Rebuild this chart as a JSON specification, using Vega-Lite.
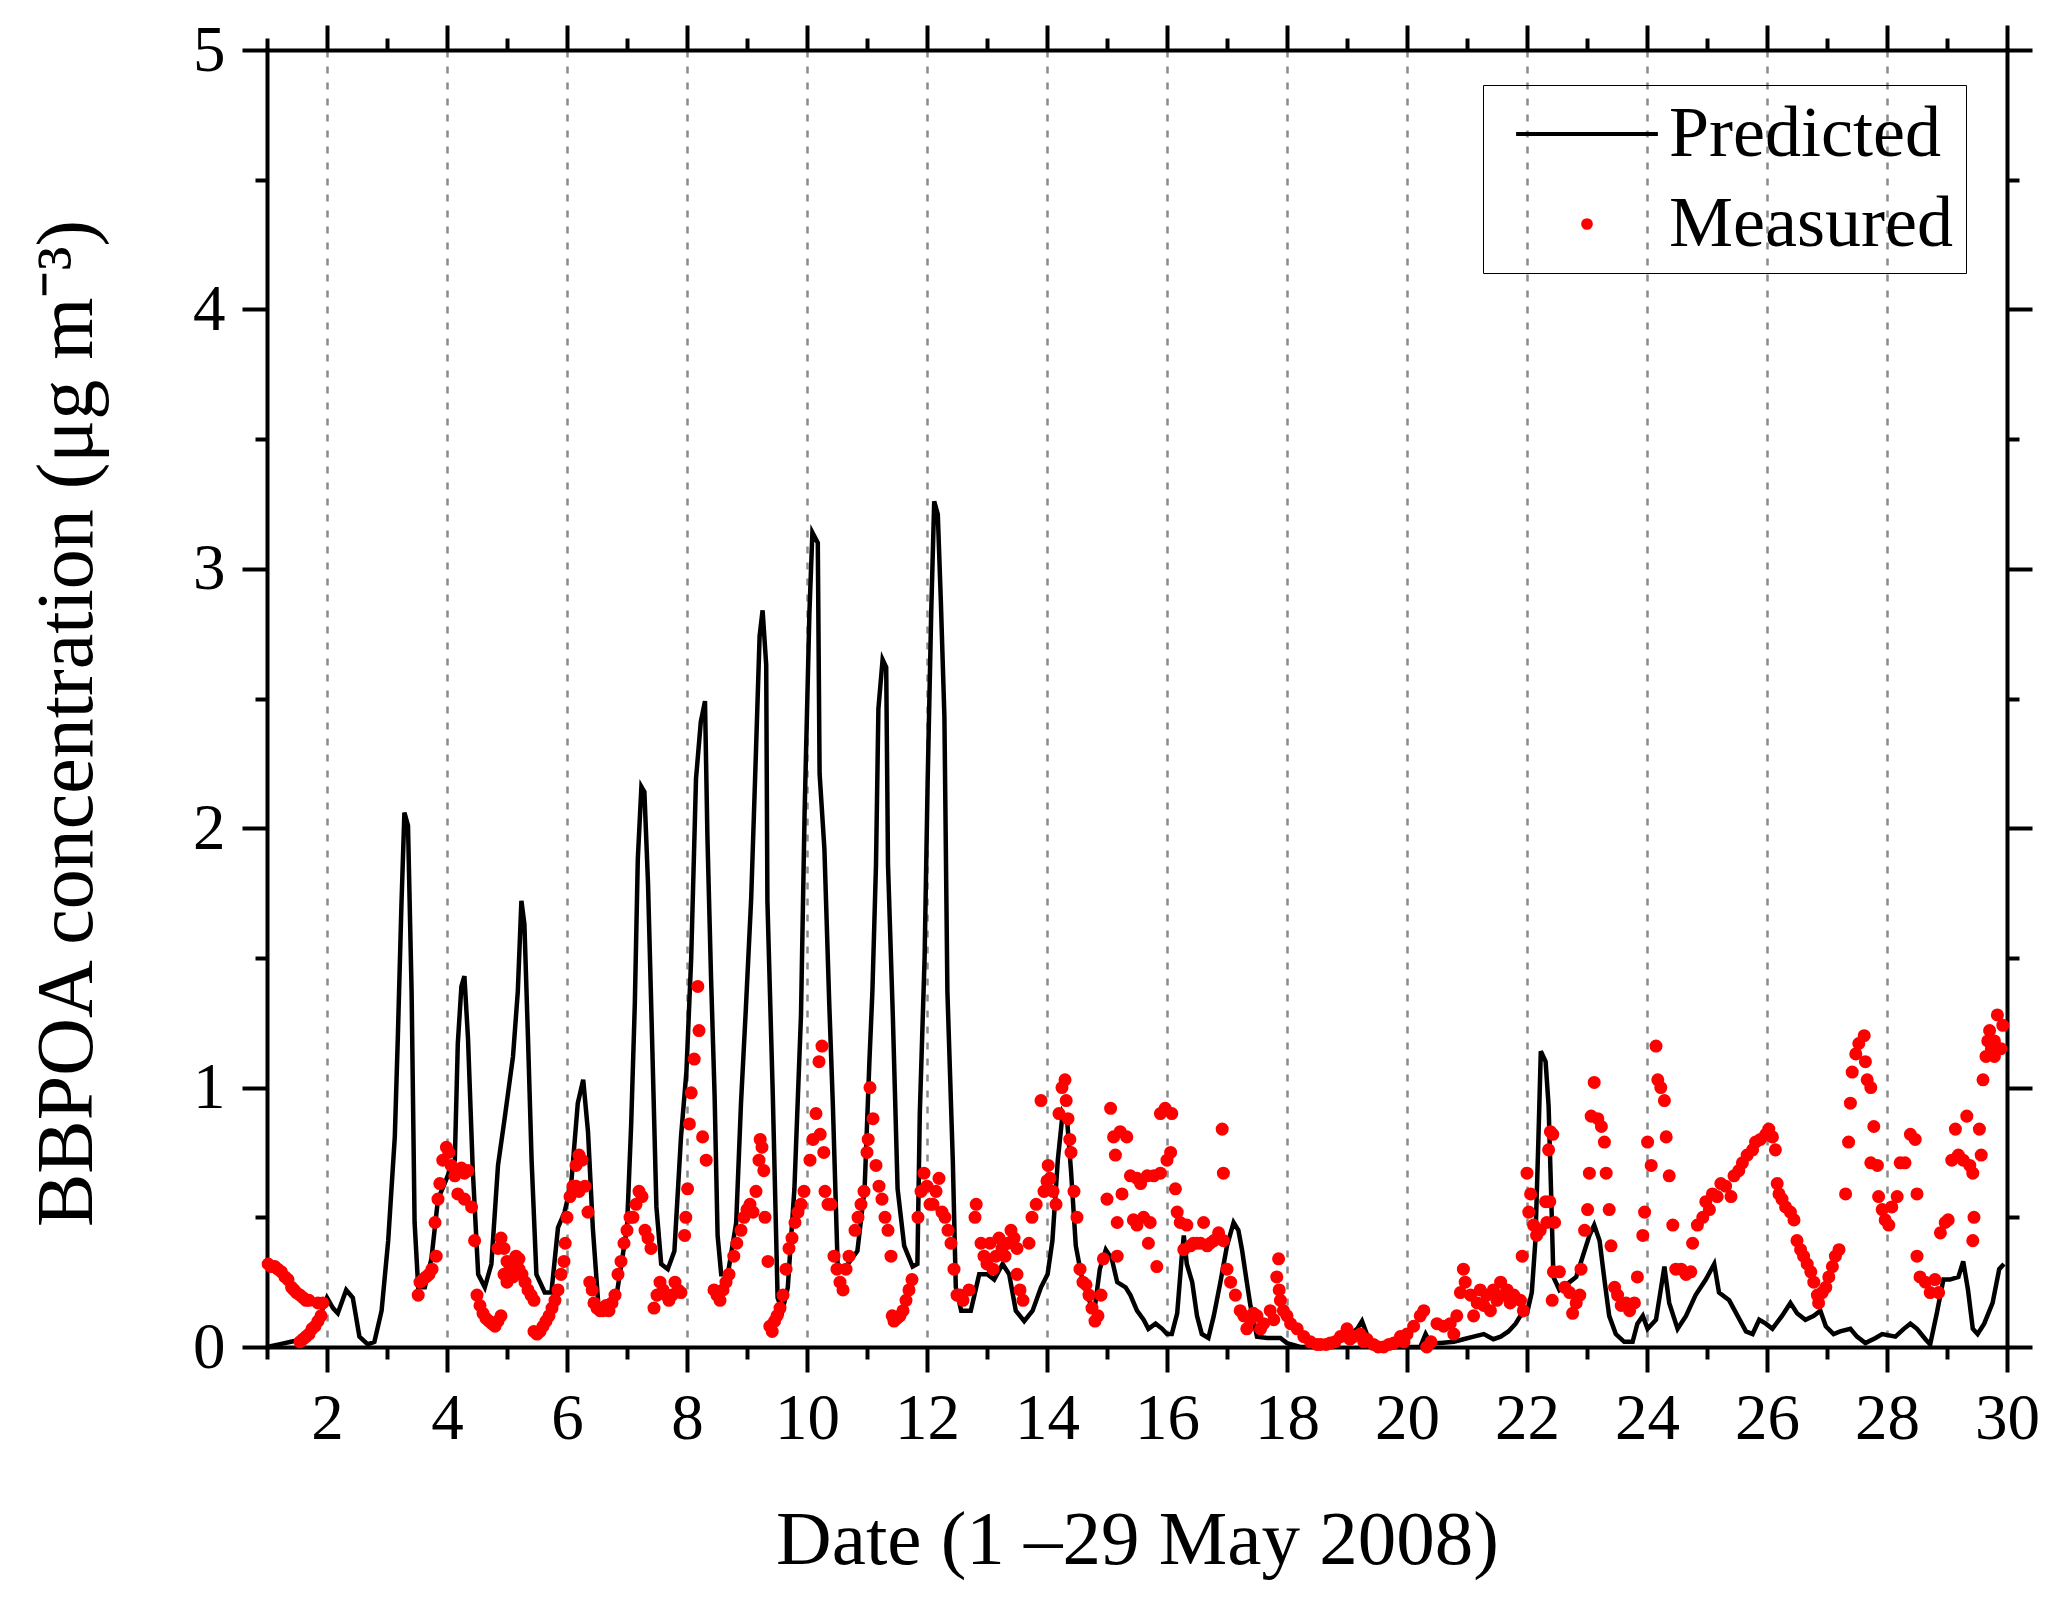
{
  "$schema": "https://vega.github.io/schema/vega-lite/v6.json",
  "width": 1740,
  "height": 1297,
  "autosize": {"type": "none"},
  "padding": {"left": 267, "top": 50, "right": 60, "bottom": 258},
  "background": "white",
  "config": {"view": {"stroke": null}, "font": "Liberation Serif"},
  "datasets": {
    "predicted": [
      {"d":1.0,"v":0.0},{"d":1.2,"v":0.01},{"d":1.4,"v":0.02},{"d":1.6,"v":0.03},{"d":1.75,"v":0.06},{"d":1.85,"v":0.1},{"d":2.0,"v":0.19},{"d":2.1,"v":0.15},{"d":2.18,"v":0.13},{"d":2.32,"v":0.22},{"d":2.43,"v":0.19},{"d":2.54,"v":0.04},{"d":2.68,"v":0.01},{"d":2.79,"v":0.02},{"d":2.91,"v":0.14},
      {"d":3.02,"v":0.41},{"d":3.13,"v":0.81},{"d":3.18,"v":1.19},{"d":3.24,"v":1.7},{"d":3.29,"v":2.06},{"d":3.35,"v":2.01},{"d":3.41,"v":1.37},{"d":3.46,"v":0.48},{"d":3.52,"v":0.23},{"d":3.63,"v":0.23},{"d":3.74,"v":0.34},{"d":3.85,"v":0.57},{"d":3.96,"v":0.63},
      {"d":4.08,"v":0.7},{"d":4.13,"v":0.72},{"d":4.18,"v":1.17},{"d":4.24,"v":1.39},{"d":4.29,"v":1.43},{"d":4.35,"v":1.19},{"d":4.43,"v":0.68},{"d":4.52,"v":0.28},{"d":4.63,"v":0.23},{"d":4.74,"v":0.32},{"d":4.85,"v":0.7},{"d":4.96,"v":0.88},
      {"d":5.1,"v":1.12},{"d":5.18,"v":1.37},{"d":5.24,"v":1.72},{"d":5.29,"v":1.63},{"d":5.35,"v":1.19},{"d":5.41,"v":0.72},{"d":5.49,"v":0.28},{"d":5.63,"v":0.21},{"d":5.74,"v":0.21},{"d":5.85,"v":0.46},{"d":5.96,"v":0.52},
      {"d":6.07,"v":0.63},{"d":6.18,"v":0.94},{"d":6.27,"v":1.03},{"d":6.35,"v":0.83},{"d":6.43,"v":0.46},{"d":6.52,"v":0.17},{"d":6.66,"v":0.13},{"d":6.82,"v":0.19},
      {"d":7.0,"v":0.46},{"d":7.07,"v":0.86},{"d":7.13,"v":1.32},{"d":7.18,"v":1.88},{"d":7.24,"v":2.16},{"d":7.29,"v":2.14},{"d":7.35,"v":1.79},{"d":7.41,"v":1.26},{"d":7.49,"v":0.54},{"d":7.57,"v":0.32},{"d":7.68,"v":0.3},{"d":7.79,"v":0.37},{"d":7.9,"v":0.81},{"d":7.99,"v":1.06},
      {"d":8.07,"v":1.5},{"d":8.15,"v":2.19},{"d":8.23,"v":2.41},{"d":8.3,"v":2.49},{"d":8.34,"v":1.97},{"d":8.4,"v":1.43},{"d":8.46,"v":0.97},{"d":8.51,"v":0.43},{"d":8.57,"v":0.28},{"d":8.68,"v":0.28},{"d":8.82,"v":0.48},{"d":8.9,"v":0.94},{"d":8.98,"v":1.3},
      {"d":9.07,"v":1.73},{"d":9.15,"v":2.3},{"d":9.21,"v":2.74},{"d":9.26,"v":2.84},{"d":9.32,"v":2.63},{"d":9.34,"v":1.72},{"d":9.43,"v":0.97},{"d":9.51,"v":0.19},{"d":9.59,"v":0.14},{"d":9.68,"v":0.23},{"d":9.79,"v":0.61},{"d":9.9,"v":1.28},{"d":9.96,"v":2.06},
      {"d":10.04,"v":2.83},{"d":10.09,"v":3.14},{"d":10.18,"v":3.1},{"d":10.21,"v":2.21},{"d":10.29,"v":1.92},{"d":10.37,"v":1.33},{"d":10.43,"v":0.94},{"d":10.51,"v":0.32},{"d":10.62,"v":0.3},{"d":10.84,"v":0.37},{"d":10.96,"v":0.61},
      {"d":11.04,"v":1.1},{"d":11.09,"v":1.37},{"d":11.15,"v":1.86},{"d":11.19,"v":2.46},{"d":11.26,"v":2.65},{"d":11.32,"v":2.62},{"d":11.35,"v":1.86},{"d":11.43,"v":1.28},{"d":11.51,"v":0.61},{"d":11.62,"v":0.39},{"d":11.76,"v":0.31},{"d":11.84,"v":0.32},{"d":11.88,"v":0.9},{"d":11.96,"v":1.5},
      {"d":12.01,"v":2.17},{"d":12.07,"v":2.83},{"d":12.12,"v":3.26},{"d":12.18,"v":3.21},{"d":12.23,"v":2.88},{"d":12.29,"v":2.43},{"d":12.34,"v":1.37},{"d":12.43,"v":0.72},{"d":12.48,"v":0.23},{"d":12.57,"v":0.14},{"d":12.73,"v":0.14},{"d":12.87,"v":0.28},
      {"d":13.01,"v":0.28},{"d":13.12,"v":0.26},{"d":13.26,"v":0.32},{"d":13.37,"v":0.28},{"d":13.48,"v":0.14},{"d":13.62,"v":0.1},{"d":13.76,"v":0.14},{"d":13.9,"v":0.23},
      {"d":14.01,"v":0.28},{"d":14.09,"v":0.41},{"d":14.18,"v":0.72},{"d":14.26,"v":0.9},{"d":14.34,"v":0.86},{"d":14.4,"v":0.68},{"d":14.48,"v":0.39},{"d":14.57,"v":0.28},{"d":14.68,"v":0.19},{"d":14.79,"v":0.14},{"d":14.88,"v":0.3},{"d":14.98,"v":0.375},
      {"d":15.08,"v":0.34},{"d":15.17,"v":0.25},{"d":15.31,"v":0.23},{"d":15.39,"v":0.2},{"d":15.5,"v":0.14},{"d":15.61,"v":0.105},{"d":15.69,"v":0.07},{"d":15.81,"v":0.09},{"d":15.92,"v":0.07},
      {"d":16.0,"v":0.05},{"d":16.08,"v":0.05},{"d":16.17,"v":0.13},{"d":16.25,"v":0.36},{"d":16.28,"v":0.43},{"d":16.33,"v":0.32},{"d":16.42,"v":0.25},{"d":16.5,"v":0.12},{"d":16.58,"v":0.05},{"d":16.69,"v":0.035},{"d":16.78,"v":0.12},{"d":16.89,"v":0.25},
      {"d":17.0,"v":0.39},{"d":17.11,"v":0.48},{"d":17.19,"v":0.45},{"d":17.25,"v":0.375},{"d":17.33,"v":0.25},{"d":17.39,"v":0.16},{"d":17.5,"v":0.04},{"d":17.67,"v":0.035},{"d":17.89,"v":0.035},
      {"d":18.0,"v":0.015},{"d":18.22,"v":0.0},{"d":18.5,"v":0.0},{"d":18.89,"v":0.03},{"d":19.06,"v":0.05},{"d":19.17,"v":0.07},{"d":19.25,"v":0.1},{"d":19.33,"v":0.05},{"d":19.44,"v":0.01},{"d":19.67,"v":0.0},
      {"d":20.0,"v":0.0},{"d":20.22,"v":0.0},{"d":20.31,"v":0.05},{"d":20.39,"v":0.015},{"d":20.56,"v":0.015},{"d":20.78,"v":0.02},{"d":20.94,"v":0.03},
      {"d":21.11,"v":0.04},{"d":21.28,"v":0.05},{"d":21.44,"v":0.03},{"d":21.56,"v":0.04},{"d":21.69,"v":0.06},{"d":21.81,"v":0.09},{"d":21.89,"v":0.12},
      {"d":22.0,"v":0.13},{"d":22.08,"v":0.21},{"d":22.14,"v":0.41},{"d":22.19,"v":0.8},{"d":22.23,"v":1.14},{"d":22.31,"v":1.1},{"d":22.36,"v":0.93},{"d":22.4,"v":0.61},{"d":22.44,"v":0.27},{"d":22.54,"v":0.22},{"d":22.71,"v":0.25},{"d":22.82,"v":0.27},{"d":22.93,"v":0.35},
      {"d":23.04,"v":0.43},{"d":23.12,"v":0.47},{"d":23.21,"v":0.41},{"d":23.29,"v":0.26},{"d":23.37,"v":0.12},{"d":23.48,"v":0.05},{"d":23.62,"v":0.02},{"d":23.76,"v":0.02},{"d":23.84,"v":0.09},{"d":23.93,"v":0.12},
      {"d":24.01,"v":0.07},{"d":24.15,"v":0.105},{"d":24.29,"v":0.31},{"d":24.37,"v":0.17},{"d":24.51,"v":0.07},{"d":24.65,"v":0.12},{"d":24.81,"v":0.2},{"d":24.98,"v":0.26},
      {"d":25.12,"v":0.32},{"d":25.2,"v":0.21},{"d":25.37,"v":0.18},{"d":25.51,"v":0.12},{"d":25.65,"v":0.06},{"d":25.76,"v":0.05},{"d":25.87,"v":0.105},{"d":25.98,"v":0.09},
      {"d":26.09,"v":0.07},{"d":26.25,"v":0.12},{"d":26.39,"v":0.17},{"d":26.5,"v":0.13},{"d":26.64,"v":0.105},{"d":26.78,"v":0.12},{"d":26.89,"v":0.14},{"d":26.98,"v":0.08},
      {"d":27.11,"v":0.05},{"d":27.22,"v":0.06},{"d":27.39,"v":0.07},{"d":27.5,"v":0.04},{"d":27.64,"v":0.015},{"d":27.81,"v":0.035},{"d":27.92,"v":0.05},
      {"d":28.14,"v":0.04},{"d":28.28,"v":0.07},{"d":28.39,"v":0.09},{"d":28.5,"v":0.07},{"d":28.64,"v":0.03},{"d":28.72,"v":0.01},{"d":28.83,"v":0.13},{"d":28.94,"v":0.26},
      {"d":29.05,"v":0.26},{"d":29.19,"v":0.27},{"d":29.27,"v":0.33},{"d":29.35,"v":0.22},{"d":29.43,"v":0.07},{"d":29.51,"v":0.05},{"d":29.62,"v":0.09},{"d":29.76,"v":0.17},{"d":29.87,"v":0.3},{"d":29.95,"v":0.32}
    ],
    "measured": [
      {"d":1.02,"v":0.32},{"d":1.07,"v":0.31},{"d":1.13,"v":0.31},{"d":1.18,"v":0.3},{"d":1.24,"v":0.29},{"d":1.3,"v":0.27},{"d":1.35,"v":0.26},{"d":1.41,"v":0.23},{"d":1.45,"v":0.22},{"d":1.49,"v":0.21},{"d":1.55,"v":0.2},{"d":1.6,"v":0.19},{"d":1.65,"v":0.18},{"d":1.7,"v":0.18},{"d":1.85,"v":0.17},{"d":1.93,"v":0.17},
      {"d":1.55,"v":0.02},{"d":1.6,"v":0.03},{"d":1.65,"v":0.04},{"d":1.7,"v":0.05},{"d":1.75,"v":0.07},{"d":1.8,"v":0.08},{"d":1.85,"v":0.1},{"d":1.9,"v":0.12},
      {"d":3.52,"v":0.2},{"d":3.55,"v":0.25},{"d":3.6,"v":0.26},{"d":3.65,"v":0.27},{"d":3.7,"v":0.28},{"d":3.75,"v":0.3},{"d":3.8,"v":0.48},{"d":3.82,"v":0.35},{"d":3.85,"v":0.57},{"d":3.88,"v":0.63},{"d":3.93,"v":0.72},{"d":3.99,"v":0.77},{"d":4.03,"v":0.75},{"d":4.07,"v":0.7},{"d":4.13,"v":0.66},{"d":4.18,"v":0.68},{"d":4.24,"v":0.69},{"d":4.29,"v":0.67},{"d":4.35,"v":0.68},{"d":4.18,"v":0.59},{"d":4.29,"v":0.57},{"d":4.41,"v":0.54},{"d":4.46,"v":0.41},
      {"d":4.5,"v":0.2},{"d":4.55,"v":0.16},{"d":4.6,"v":0.13},{"d":4.65,"v":0.11},{"d":4.7,"v":0.1},{"d":4.75,"v":0.09},{"d":4.8,"v":0.08},{"d":4.85,"v":0.1},{"d":4.9,"v":0.12},
      {"d":4.85,"v":0.38},{"d":4.9,"v":0.42},{"d":4.95,"v":0.38},{"d":5.0,"v":0.33},{"d":5.05,"v":0.3},{"d":5.1,"v":0.32},{"d":5.15,"v":0.35},{"d":5.2,"v":0.3},{"d":5.25,"v":0.28},{"d":5.3,"v":0.25},{"d":5.35,"v":0.22},{"d":5.4,"v":0.2},{"d":5.45,"v":0.18},{"d":4.95,"v":0.28},{"d":5.0,"v":0.25},{"d":5.1,"v":0.27},{"d":5.2,"v":0.34},
      {"d":5.45,"v":0.06},{"d":5.5,"v":0.05},{"d":5.55,"v":0.06},{"d":5.6,"v":0.08},{"d":5.65,"v":0.1},{"d":5.7,"v":0.12},{"d":5.75,"v":0.15},{"d":5.8,"v":0.18},{"d":5.85,"v":0.22},{"d":5.9,"v":0.28},{"d":5.95,"v":0.33},
      {"d":5.97,"v":0.4},{"d":6.0,"v":0.5},{"d":6.05,"v":0.58},{"d":6.1,"v":0.62},{"d":6.15,"v":0.7},{"d":6.2,"v":0.74},{"d":6.25,"v":0.72},{"d":6.3,"v":0.62},{"d":6.35,"v":0.52},{"d":6.2,"v":0.6},{"d":6.15,"v":0.62},
      {"d":6.38,"v":0.25},{"d":6.42,"v":0.22},{"d":6.45,"v":0.17},{"d":6.5,"v":0.15},{"d":6.55,"v":0.14},{"d":6.6,"v":0.14},{"d":6.65,"v":0.16},{"d":6.7,"v":0.14},{"d":6.75,"v":0.17},{"d":6.8,"v":0.2},
      {"d":6.85,"v":0.28},{"d":6.9,"v":0.33},{"d":6.95,"v":0.4},{"d":7.0,"v":0.45},{"d":7.05,"v":0.5},{"d":7.1,"v":0.5},{"d":7.15,"v":0.55},{"d":7.2,"v":0.6},{"d":7.25,"v":0.58},{"d":7.3,"v":0.45},{"d":7.35,"v":0.42},{"d":7.4,"v":0.38},
      {"d":7.45,"v":0.15},{"d":7.5,"v":0.2},{"d":7.55,"v":0.25},{"d":7.6,"v":0.22},{"d":7.65,"v":0.2},{"d":7.7,"v":0.18},{"d":7.75,"v":0.2},{"d":7.8,"v":0.25},{"d":7.85,"v":0.22},{"d":7.9,"v":0.21},
      {"d":7.96,"v":0.43},{"d":7.98,"v":0.5},{"d":8.01,"v":0.61},{"d":8.04,"v":0.86},{"d":8.07,"v":0.98},{"d":8.12,"v":1.11},{"d":8.18,"v":1.39},{"d":8.2,"v":1.22},{"d":8.26,"v":0.81},{"d":8.32,"v":0.72},
      {"d":8.45,"v":0.22},{"d":8.5,"v":0.2},{"d":8.55,"v":0.18},{"d":8.6,"v":0.22},{"d":8.65,"v":0.25},{"d":8.7,"v":0.28},{"d":8.78,"v":0.35},{"d":8.83,"v":0.4},
      {"d":8.9,"v":0.45},{"d":8.95,"v":0.5},{"d":9.0,"v":0.53},{"d":9.05,"v":0.55},{"d":9.1,"v":0.52},{"d":9.15,"v":0.6},{"d":9.2,"v":0.72},{"d":9.22,"v":0.8},{"d":9.25,"v":0.77},{"d":9.28,"v":0.68},{"d":9.3,"v":0.5},{"d":9.35,"v":0.33},
      {"d":9.38,"v":0.08},{"d":9.42,"v":0.06},{"d":9.46,"v":0.1},{"d":9.5,"v":0.12},{"d":9.55,"v":0.15},{"d":9.6,"v":0.2},
      {"d":9.65,"v":0.3},{"d":9.7,"v":0.38},{"d":9.75,"v":0.42},{"d":9.8,"v":0.48},{"d":9.85,"v":0.52},{"d":9.9,"v":0.55},{"d":9.95,"v":0.6},
      {"d":10.05,"v":0.72},{"d":10.1,"v":0.8},{"d":10.15,"v":0.9},{"d":10.2,"v":1.1},{"d":10.25,"v":1.16},{"d":10.22,"v":0.82},{"d":10.28,"v":0.75},{"d":10.3,"v":0.6},{"d":10.35,"v":0.55},{"d":10.4,"v":0.55},
      {"d":10.45,"v":0.35},{"d":10.5,"v":0.3},{"d":10.55,"v":0.25},{"d":10.6,"v":0.22},{"d":10.65,"v":0.3},{"d":10.7,"v":0.35},
      {"d":10.8,"v":0.45},{"d":10.85,"v":0.5},{"d":10.9,"v":0.55},{"d":10.95,"v":0.6},{"d":11.0,"v":0.75},{"d":11.02,"v":0.8},{"d":11.05,"v":1.0},{"d":11.1,"v":0.88},{"d":11.15,"v":0.7},{"d":11.2,"v":0.62},{"d":11.25,"v":0.57},{"d":11.3,"v":0.5},{"d":11.35,"v":0.45},{"d":11.4,"v":0.35},
      {"d":11.42,"v":0.12},{"d":11.45,"v":0.1},{"d":11.5,"v":0.11},{"d":11.55,"v":0.12},{"d":11.6,"v":0.14},{"d":11.65,"v":0.18},{"d":11.7,"v":0.22},{"d":11.75,"v":0.26},
      {"d":11.85,"v":0.5},{"d":11.9,"v":0.6},{"d":11.95,"v":0.67},{"d":12.0,"v":0.62},{"d":12.05,"v":0.55},{"d":12.1,"v":0.55},{"d":12.15,"v":0.6},{"d":12.2,"v":0.65},{"d":12.25,"v":0.52},{"d":12.3,"v":0.5},{"d":12.35,"v":0.45},{"d":12.4,"v":0.4},
      {"d":12.45,"v":0.3},{"d":12.5,"v":0.2},{"d":12.55,"v":0.2},{"d":12.6,"v":0.18},{"d":12.7,"v":0.22},{"d":12.8,"v":0.5},{"d":12.82,"v":0.55},{"d":12.9,"v":0.4},{"d":12.95,"v":0.35},{"d":13.0,"v":0.32},{"d":13.05,"v":0.4},{"d":13.1,"v":0.3},{"d":13.15,"v":0.35},{"d":13.2,"v":0.42},{"d":13.25,"v":0.38},{"d":13.3,"v":0.35},{"d":13.35,"v":0.4},{"d":13.4,"v":0.45},{"d":13.45,"v":0.42},{"d":13.5,"v":0.38},{"d":13.55,"v":0.22},{"d":13.6,"v":0.18},{"d":13.5,"v":0.28},
      {"d":13.7,"v":0.4},{"d":13.75,"v":0.5},{"d":13.82,"v":0.55},{"d":13.9,"v":0.95},{"d":13.95,"v":0.6},{"d":14.0,"v":0.64},{"d":14.02,"v":0.7},{"d":14.05,"v":0.65},
      {"d":14.1,"v":0.6},{"d":14.15,"v":0.55},{"d":14.2,"v":0.9},{"d":14.25,"v":1.0},{"d":14.3,"v":1.03},{"d":14.32,"v":0.95},{"d":14.35,"v":0.88},{"d":14.38,"v":0.8},{"d":14.4,"v":0.75},{"d":14.45,"v":0.6},{"d":14.5,"v":0.5},
      {"d":14.55,"v":0.3},{"d":14.6,"v":0.25},{"d":14.65,"v":0.24},{"d":14.7,"v":0.2},{"d":14.75,"v":0.15},{"d":14.8,"v":0.1},{"d":14.85,"v":0.12},{"d":14.9,"v":0.2},{"d":14.94,"v":0.34},
      {"d":15.0,"v":0.57},{"d":15.06,"v":0.92},{"d":15.11,"v":0.81},{"d":15.14,"v":0.74},{"d":15.17,"v":0.48},{"d":15.17,"v":0.35},{"d":15.22,"v":0.83},{"d":15.25,"v":0.59},{"d":15.33,"v":0.81},{"d":15.39,"v":0.66},{"d":15.44,"v":0.49},{"d":15.5,"v":0.65},{"d":15.5,"v":0.47},{"d":15.56,"v":0.63},{"d":15.61,"v":0.5},{"d":15.67,"v":0.66},{"d":15.69,"v":0.4},{"d":15.72,"v":0.48},{"d":15.78,"v":0.66},{"d":15.83,"v":0.31},{"d":15.89,"v":0.67},{"d":15.89,"v":0.9},{"d":15.97,"v":0.92},
      {"d":16.0,"v":0.72},{"d":16.06,"v":0.75},{"d":16.08,"v":0.9},{"d":16.14,"v":0.61},{"d":16.17,"v":0.52},{"d":16.22,"v":0.48},{"d":16.28,"v":0.375},{"d":16.33,"v":0.47},{"d":16.39,"v":0.39},{"d":16.44,"v":0.4},{"d":16.5,"v":0.4},{"d":16.56,"v":0.4},{"d":16.61,"v":0.48},{"d":16.67,"v":0.39},{"d":16.72,"v":0.4},{"d":16.78,"v":0.41},{"d":16.86,"v":0.44},{"d":16.92,"v":0.84},{"d":16.94,"v":0.67},{"d":16.94,"v":0.41},
      {"d":17.0,"v":0.3},{"d":17.06,"v":0.25},{"d":17.14,"v":0.2},{"d":17.22,"v":0.14},{"d":17.28,"v":0.12},{"d":17.33,"v":0.07},{"d":17.39,"v":0.105},{"d":17.44,"v":0.13},{"d":17.5,"v":0.12},{"d":17.56,"v":0.07},{"d":17.61,"v":0.09},{"d":17.72,"v":0.14},{"d":17.78,"v":0.105},{"d":17.83,"v":0.27},{"d":17.86,"v":0.34},{"d":17.87,"v":0.22},{"d":17.89,"v":0.18},{"d":17.94,"v":0.14},
      {"d":18.0,"v":0.12},{"d":18.06,"v":0.09},{"d":18.17,"v":0.07},{"d":18.28,"v":0.04},{"d":18.39,"v":0.02},{"d":18.5,"v":0.01},{"d":18.56,"v":0.01},{"d":18.65,"v":0.01},{"d":18.72,"v":0.015},{"d":18.8,"v":0.02},{"d":18.89,"v":0.04},
      {"d":19.0,"v":0.07},{"d":19.05,"v":0.03},{"d":19.11,"v":0.04},{"d":19.22,"v":0.05},{"d":19.28,"v":0.02},{"d":19.33,"v":0.03},{"d":19.44,"v":0.01},{"d":19.52,"v":0.0},{"d":19.61,"v":0.0},{"d":19.7,"v":0.01},{"d":19.78,"v":0.015},{"d":19.89,"v":0.04},{"d":19.95,"v":0.02},
      {"d":20.0,"v":0.05},{"d":20.11,"v":0.08},{"d":20.22,"v":0.12},{"d":20.28,"v":0.14},{"d":20.33,"v":0.0},{"d":20.4,"v":0.02},
      {"d":20.5,"v":0.09},{"d":20.61,"v":0.08},{"d":20.72,"v":0.09},{"d":20.78,"v":0.05},{"d":20.83,"v":0.12},{"d":20.89,"v":0.21},{"d":20.94,"v":0.3},{"d":20.97,"v":0.25},
      {"d":21.06,"v":0.2},{"d":21.11,"v":0.12},{"d":21.17,"v":0.17},{"d":21.22,"v":0.22},{"d":21.28,"v":0.16},{"d":21.33,"v":0.2},{"d":21.39,"v":0.14},{"d":21.44,"v":0.22},{"d":21.5,"v":0.18},{"d":21.56,"v":0.25},{"d":21.61,"v":0.2},{"d":21.67,"v":0.22},{"d":21.72,"v":0.17},{"d":21.78,"v":0.2},{"d":21.89,"v":0.18},{"d":21.94,"v":0.14},
      {"d":21.92,"v":0.35},{"d":22.0,"v":0.67},{"d":22.03,"v":0.52},{"d":22.06,"v":0.59},{"d":22.11,"v":0.47},{"d":22.16,"v":0.43},{"d":22.22,"v":0.45},{"d":22.31,"v":0.56},{"d":22.33,"v":0.48},{"d":22.36,"v":0.76},{"d":22.39,"v":0.83},{"d":22.43,"v":0.82},{"d":22.42,"v":0.18},{"d":22.44,"v":0.29},{"d":22.46,"v":0.48},{"d":22.38,"v":0.56},
      {"d":22.54,"v":0.29},{"d":22.63,"v":0.23},{"d":22.71,"v":0.21},{"d":22.76,"v":0.13},{"d":22.82,"v":0.17},{"d":22.88,"v":0.2},{"d":22.9,"v":0.3},{"d":22.96,"v":0.45},
      {"d":23.01,"v":0.53},{"d":23.04,"v":0.67},{"d":23.07,"v":0.89},{"d":23.12,"v":1.02},{"d":23.18,"v":0.88},{"d":23.24,"v":0.85},{"d":23.29,"v":0.79},{"d":23.32,"v":0.67},{"d":23.37,"v":0.53},{"d":23.4,"v":0.39},{"d":23.46,"v":0.23},{"d":23.51,"v":0.2},{"d":23.57,"v":0.16},{"d":23.65,"v":0.17},{"d":23.71,"v":0.14},{"d":23.79,"v":0.17},{"d":23.84,"v":0.27},{"d":23.93,"v":0.43},{"d":23.96,"v":0.52},
      {"d":24.01,"v":0.79},{"d":24.07,"v":0.7},{"d":24.15,"v":1.16},{"d":24.18,"v":1.03},{"d":24.23,"v":1.0},{"d":24.29,"v":0.95},{"d":24.32,"v":0.81},{"d":24.37,"v":0.66},{"d":24.43,"v":0.47},{"d":24.48,"v":0.3},{"d":24.57,"v":0.3},{"d":24.65,"v":0.28},{"d":24.73,"v":0.29},{"d":24.76,"v":0.4},{"d":24.84,"v":0.47},{"d":24.93,"v":0.5},{"d":24.98,"v":0.56},
      {"d":25.04,"v":0.53},{"d":25.09,"v":0.59},{"d":25.17,"v":0.58},{"d":25.23,"v":0.63},{"d":25.31,"v":0.62},{"d":25.4,"v":0.58},{"d":25.45,"v":0.66},{"d":25.53,"v":0.68},{"d":25.59,"v":0.71},{"d":25.67,"v":0.74},{"d":25.76,"v":0.76},{"d":25.81,"v":0.79},{"d":25.89,"v":0.8},{"d":25.98,"v":0.82},
      {"d":26.03,"v":0.84},{"d":26.09,"v":0.81},{"d":26.14,"v":0.76},{"d":26.17,"v":0.63},{"d":26.2,"v":0.59},{"d":26.25,"v":0.57},{"d":26.31,"v":0.54},{"d":26.39,"v":0.52},{"d":26.45,"v":0.49},{"d":26.5,"v":0.41},{"d":26.56,"v":0.375},{"d":26.61,"v":0.35},{"d":26.67,"v":0.32},{"d":26.73,"v":0.29},{"d":26.78,"v":0.25},{"d":26.84,"v":0.2},{"d":26.86,"v":0.17},{"d":26.92,"v":0.21},{"d":26.98,"v":0.23},
      {"d":27.03,"v":0.27},{"d":27.09,"v":0.31},{"d":27.14,"v":0.35},{"d":27.2,"v":0.375},
      {"d":27.31,"v":0.59},{"d":27.36,"v":0.79},{"d":27.39,"v":0.94},{"d":27.42,"v":1.06},{"d":27.48,"v":1.13},{"d":27.53,"v":1.17},{"d":27.62,"v":1.2},{"d":27.64,"v":1.1},{"d":27.67,"v":1.03},{"d":27.73,"v":1.0},{"d":27.73,"v":0.71},{"d":27.78,"v":0.85},{"d":27.84,"v":0.7},{"d":27.86,"v":0.58},{"d":27.92,"v":0.53},{"d":27.97,"v":0.49},
      {"d":28.03,"v":0.47},{"d":28.08,"v":0.54},{"d":28.17,"v":0.58},{"d":28.22,"v":0.71},{"d":28.3,"v":0.71},{"d":28.39,"v":0.82},{"d":28.47,"v":0.8},{"d":28.5,"v":0.59},
      {"d":28.5,"v":0.35},{"d":28.55,"v":0.27},{"d":28.64,"v":0.25},{"d":28.72,"v":0.21},{"d":28.8,"v":0.26},{"d":28.86,"v":0.21},{"d":28.89,"v":0.44},{"d":28.97,"v":0.48},
      {"d":29.02,"v":0.49},{"d":29.08,"v":0.72},{"d":29.14,"v":0.84},{"d":29.19,"v":0.74},{"d":29.27,"v":0.72},{"d":29.33,"v":0.89},{"d":29.38,"v":0.7},{"d":29.43,"v":0.67},{"d":29.45,"v":0.5},{"d":29.43,"v":0.41},{"d":29.54,"v":0.84},{"d":29.57,"v":0.74},{"d":29.6,"v":1.03},{"d":29.65,"v":1.12},{"d":29.68,"v":1.18},{"d":29.71,"v":1.22},{"d":29.74,"v":1.15},{"d":29.79,"v":1.18},{"d":29.79,"v":1.12},{"d":29.84,"v":1.28},{"d":29.9,"v":1.15},{"d":29.93,"v":1.24}
    ]
  },
  "layer": [
    {
      "data": {"name": "predicted"},
      "mark": {"type": "line", "color": "black", "strokeWidth": 4.5},
      "encoding": {
        "x": {
          "field": "d", "type": "quantitative",
          "scale": {"domain": [1, 30], "nice": false, "zero": false},
          "axis": {
            "orient": "bottom",
            "values": [1,2,3,4,5,6,7,8,9,10,11,12,13,14,15,16,17,18,19,20,21,22,23,24,25,26,27,28,29,30],
            "tickSize": {"condition": {"test": "datum.value % 2 == 0", "value": 25}, "value": 12},
            "tickWidth": 4, "tickColor": "black",
            "domainColor": "black", "domainWidth": 4, "domainCap": "square",
            "labelFont": "Liberation Serif", "labelFontSize": 65, "labelColor": "black",
            "labelPadding": 15, "labelFlush": false, "labelOverlap": false,
            "labelExpr": "datum.value % 2 == 0 ? format(datum.value, 'd') : ''",
            "grid": true, "gridColor": "#8c8c8c", "gridWidth": 2.5, "gridDash": [7, 9],
            "gridOpacity": {"condition": {"test": "datum.value % 2 == 0", "value": 1}, "value": 0},
            "title": "Date (1 –29 May 2008)",
            "titleFont": "Liberation Serif", "titleFontSize": 77, "titleFontWeight": "normal", "titleColor": "black",
            "titleBaseline": "alphabetic", "titleY": 216
          }
        },
        "y": {
          "field": "v", "type": "quantitative",
          "scale": {"domain": [0, 5], "nice": false},
          "axis": {
            "orient": "left",
            "values": [0,0.5,1,1.5,2,2.5,3,3.5,4,4.5,5],
            "tickSize": {"condition": {"test": "datum.value % 1 == 0", "value": 25}, "value": 12},
            "tickWidth": 4, "tickColor": "black",
            "domainColor": "black", "domainWidth": 4, "domainCap": "square",
            "labelFont": "Liberation Serif", "labelFontSize": 65, "labelColor": "black",
            "labelPadding": 17, "labelOverlap": false,
            "labelExpr": "datum.value % 1 == 0 ? format(datum.value, 'd') : ''",
            "grid": false,
            "title": "BBPOA concentration (μg m⁻³)",
            "titleFont": "Liberation Serif", "titleFontSize": 80, "titleFontWeight": "normal", "titleColor": "black",
            "titleAngle": 270, "titleBaseline": "alphabetic", "titleAlign": "center",
            "titleX": -176, "titleY": 673
          }
        }
      }
    },
    {
      "data": {"name": "measured"},
      "mark": {"type": "point", "filled": true, "size": 170, "opacity": 1, "strokeWidth": 0},
      "encoding": {
        "x": {
          "field": "d", "type": "quantitative",
          "axis": {
            "orient": "top",
            "values": [1,2,3,4,5,6,7,8,9,10,11,12,13,14,15,16,17,18,19,20,21,22,23,24,25,26,27,28,29,30],
            "tickSize": {"condition": {"test": "datum.value % 2 == 0", "value": 25}, "value": 12},
            "tickWidth": 4, "tickColor": "black",
            "domainColor": "black", "domainWidth": 4, "domainCap": "square",
            "labels": false, "grid": false, "title": null
          }
        },
        "y": {
          "field": "v", "type": "quantitative",
          "axis": {
            "orient": "right",
            "values": [0,0.5,1,1.5,2,2.5,3,3.5,4,4.5,5],
            "tickSize": {"condition": {"test": "datum.value % 1 == 0", "value": 25}, "value": 12},
            "tickWidth": 4, "tickColor": "black",
            "domainColor": "black", "domainWidth": 4, "domainCap": "square",
            "labels": false, "grid": false, "title": null
          }
        },
        "fill": {
          "datum": "Measured",
          "scale": {"domain": ["Predicted", "Measured"], "range": ["transparent", "red"]},
          "legend": {
            "orient": "none", "legendX": 1216, "legendY": 35,
            "title": null,
            "labelFont": "Liberation Serif", "labelFontSize": 72, "labelColor": "black", "labelLimit": 0,
            "symbolSize": 60, "symbolStrokeWidth": 4, "symbolOffset": 55, "labelOffset": 46,
            "rowPadding": 18, "padding": 13, "strokeColor": "black"
          }
        },
        "stroke": {
          "datum": "Measured",
          "scale": {"domain": ["Predicted", "Measured"], "range": ["black", "red"]},
          "legend": {
            "orient": "none", "legendX": 1216, "legendY": 35,
            "title": null,
            "labelFont": "Liberation Serif", "labelFontSize": 72, "labelColor": "black", "labelLimit": 0,
            "symbolSize": 60, "symbolStrokeWidth": 4, "symbolOffset": 55, "labelOffset": 46,
            "rowPadding": 18, "padding": 13, "strokeColor": "black"
          }
        },
        "shape": {
          "datum": "Measured",
          "scale": {"domain": ["Predicted", "Measured"], "range": ["M-18.3,0L18.3,0", "circle"]},
          "legend": {
            "orient": "none", "legendX": 1216, "legendY": 35,
            "title": null,
            "labelFont": "Liberation Serif", "labelFontSize": 72, "labelColor": "black", "labelLimit": 0,
            "symbolSize": 60, "symbolStrokeWidth": 4, "symbolOffset": 55, "labelOffset": 46,
            "rowPadding": 18, "padding": 13, "strokeColor": "black"
          }
        }
      }
    }
  ],
  "resolve": {"axis": {"x": "independent", "y": "independent"}}
}
